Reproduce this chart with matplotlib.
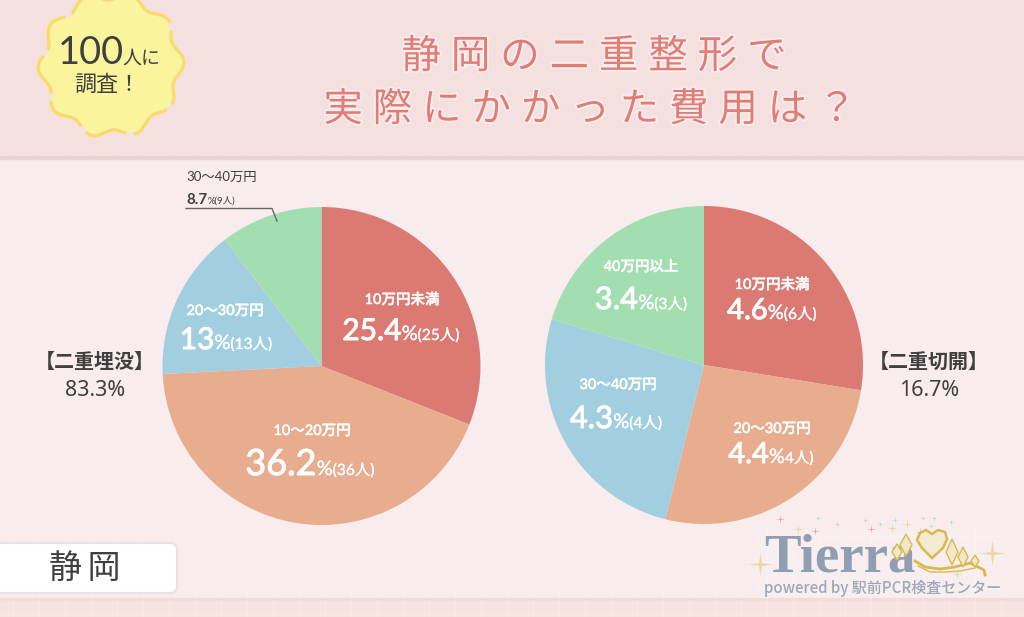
import numpy as np
import matplotlib
matplotlib.use("Agg")
import matplotlib.pyplot as plt
from matplotlib.patches import Rectangle, FancyBboxPatch, Polygon
from matplotlib.path import Path
import matplotlib.patheffects as pe

CJK = 'Noto Sans CJK JP'
LAT = ['Lato', CJK]
plt.rcParams['font.family'] = [CJK, 'DejaVu Sans']

# --- data ---
left_categories = ['10万円未満', '10〜20万円', '20〜30万円', '30〜40万円']
left_values = [25.4, 36.2, 13, 8.7]
left_shares = [31.0, 43.2, 15.4, 10.4]   # slice sizes as drawn in the picture
left_people = ['(25人)', '(36人)', '(13人)', '(9人)']
right_categories = ['10万円未満', '20〜30万円', '30〜40万円', '40万円以上']
right_values = [4.6, 4.4, 4.3, 3.4]
right_people = ['(6人)', '4人)', '(4人)', '(3人)']
slice_colors = ['#db7a72', '#e8ac8e', '#a2cfe0', '#a3deb1']
left_total = ('【二重埋没】', '83.3%')
right_total = ('【二重切開】', '16.7%')
title_lines = ['静岡の二重整形で', '実際にかかった費用は？']
region = '静岡'

W, H = 1024, 617
fig = plt.figure(figsize=(W / 100, H / 100), dpi=100)
bg = fig.add_axes([0, 0, 1, 1])
bg.set_xlim(0, W); bg.set_ylim(H, 0); bg.axis('off')
renderer = fig.canvas.get_renderer()
INK = '#3f3f3f'


def pt(px):
    return px * 0.72


def runs(cx, base, parts, color='white', ax=bg, zorder=10):
    """parts: (text, px size, stroke); centred on cx on one baseline"""
    arts, widths = [], []
    for s, size, st in parts:
        t = ax.text(0, base, s, fontsize=pt(size), family=LAT,
                    color=color, va='baseline', ha='left', zorder=zorder,
                    path_effects=[pe.withStroke(linewidth=st, foreground=color)])
        arts.append(t)
        widths.append(t.get_window_extent(renderer).width)
    x = cx - sum(widths) / 2
    for t, wd in zip(arts, widths):
        t.set_x(x)
        x += wd


# --- background ---
bg.add_patch(Rectangle((0, 0), W, H, color='#f9eced', zorder=0))
bg.add_patch(Rectangle((0, 0), W, 156, color='#f5e0e0', zorder=1))
bg.add_patch(Rectangle((0, 156), W, 3, color='#e8d2d2', zorder=1))
bg.add_patch(Rectangle((0, 600), W, 17, color='#f7e3e0', zorder=1))
bg.add_patch(Rectangle((0, 598), W, 2, color='#f0dcdc', zorder=1))
for g in np.arange(13, W, 26):
    bg.plot([g, g], [159, H], color='white', lw=0.8, alpha=0.2, zorder=1.5)
for g in np.arange(172, H, 26):
    bg.plot([0, W], [g, g], color='white', lw=0.8, alpha=0.2, zorder=1.5)

# --- badge ---
th = np.linspace(0, 2 * np.pi, 500)
rad = 66 + 4 * np.cos(10 * th + 0.4)
bg.add_patch(Polygon(np.c_[111 + rad * np.cos(th), 65 + rad * np.sin(th)],
                     color='#faf59d', zorder=2))
rad2 = 69 + 4 * np.cos(10 * th + 0.4)
bg.plot(111 + rad2 * np.cos(th), 65 + rad2 * np.sin(th), color='#f8dd60', lw=2.2,
        ls=(0, (14, 2.5)), zorder=2.5)
bg.text(58, 64, '100', fontsize=pt(38), family=LAT, color=INK, va='baseline', zorder=3)
bg.text(122, 64, '人に', fontsize=pt(19), family=LAT, color=INK, va='baseline', zorder=3)
bg.text(107, 85, '調査！', fontsize=pt(22), color=INK, ha='center', va='center', zorder=3)

# --- title ---
gap = '\u2005'
glow = [pe.withStroke(linewidth=2.5, foreground='#fbeeee')]
for y, line, cx in zip([57, 110], title_lines, [594, 590]):
    bg.text(cx, y, gap.join(line), fontsize=pt(39.5), color='#e07d77', ha='center', va='center',
            family=[CJK, 'DejaVu Sans'], path_effects=glow, zorder=3)


# --- pies ---
def pie(cx, cy, r, values):
    ax = fig.add_axes([(cx - r) / W, 1 - (cy + r) / H, 2 * r / W, 2 * r / H])
    ax.pie(values, colors=slice_colors, startangle=90, counterclock=False, radius=1,
           wedgeprops={'linewidth': 0})
    ax.set_xlim(-1, 1); ax.set_ylim(-1, 1)
    ax.set_zorder(2)
    return ax


pie(321.5, 366, 159, left_shares)
pie(704, 365, 159, right_values)
fg = fig.add_axes([0, 0, 1, 1], zorder=5)
fg.set_xlim(0, W); fg.set_ylim(H, 0); fg.axis('off'); fg.patch.set_alpha(0)


def label(ax_cat, cx, y, bcx, base, val, ppl, size):
    fg.text(cx, y, ax_cat, fontsize=pt(14.5), family=LAT, color='white', fontweight='medium',
            ha='center', va='center',
            path_effects=[pe.withStroke(linewidth=0.3, foreground='white')])
    runs(bcx, base, [(f'{val:g}', size, 0.7), ('%', 20, 0.2), (ppl, 15.5, 0.2)], ax=fg)


label(left_categories[0], 402, 300, 401, 340, left_values[0], left_people[0], 30)
label(left_categories[1], 312, 431, 310, 475, left_values[1], left_people[1], 36)
label(left_categories[2], 225, 311, 226, 349, left_values[2], left_people[2], 30)
label(right_categories[0], 772, 285, 772, 319, right_values[0], right_people[0], 29)
label(right_categories[1], 772, 429, 771, 463, right_values[1], right_people[1], 29)
label(right_categories[2], 618, 385, 616, 428, right_values[2], right_people[2], 31)
label(right_categories[3], 641, 267, 641, 309, right_values[3], right_people[3], 31)

# outside label
fg.text(186, 176.5, left_categories[3], fontsize=pt(13.3), family=LAT, color=INK, va='center')
t1 = fg.text(186, 204, f'{left_values[3]:g}', fontsize=pt(15), family=LAT, fontweight='bold',
             color=INK, va='baseline')
x1 = 186 + t1.get_window_extent(renderer).width
fg.text(x1, 204, '%' + left_people[3], fontsize=pt(9.5), family=LAT, color=INK, va='baseline')
fg.plot([186, 272, 277], [208.5, 208.5, 221], color='#666666', lw=1)

# side totals
for cx, (a, b) in zip([95, 929], [left_total, right_total]):
    fg.text(cx, 361, a, fontsize=pt(20), fontweight='bold', color=INK, ha='center', va='center')
    fg.text(cx, 390, b, fontsize=pt(21.5), family=['Noto Sans', CJK], color=INK, ha='center', va='center')

# region box
fg.add_patch(FancyBboxPatch((-12, 543), 189, 50, boxstyle='round,pad=0,rounding_size=7',
                            fc='white', ec='#e8e2e6', lw=1.5))
fg.text(85, 568, region[0] + '\u2006' + region[1], fontsize=pt(33), color=INK, ha='center', va='center',
        family=[CJK, 'DejaVu Sans'])

# --- logo ---
fg.add_patch(Rectangle((755, 530), 245, 68, color='white', alpha=0.14, lw=0))
star = Path([(0, 1), (.12, .12), (1, 0), (.12, -.12), (0, -1), (-.12, -.12), (-1, 0), (-.12, .12), (0, 1)], closed=True)
for x, y, c, s in [(760, 564, '#e8d9a6', 24), (992, 553, '#e8d9a6', 26), (798, 529, '#e8d9a6', 11),
                   (892, 528, '#e8d9a6', 11), (907, 524, '#e8d9a6', 11), (957, 574, '#e8d9a6', 11),
                   (780, 519, '#d6a9c0', 9), (815, 531, '#d6a9c0', 9), (871, 529, '#d6a9c0', 9), (920, 532, '#d6a9c0', 9),
                   (818, 518, '#a6d3e2', 6), (837, 524, '#a6d3e2', 6), (865, 520, '#a6d3e2', 6), (880, 524, '#a6d3e2', 6),
                   (895, 520, '#a6d3e2', 6), (923, 518, '#a6d3e2', 6), (934, 518, '#a6d3e2', 6), (951, 522, '#a6d3e2', 6),
                   (931, 526, '#a6d3e2', 6)]:
    fg.scatter([x], [y], marker=star, s=s ** 2 / 2, color=c, lw=0, zorder=3)
fg.text(764, 572, 'Tierra', fontsize=pt(55), family='Liberation Serif', fontweight='bold',
        color='#8f9fb1', va='baseline', zorder=4)
fg.text(764, 588, 'powered by 駅前PCR検査センター', fontsize=pt(15), fontweight='medium', color='#9aa8b7',
        va='center', zorder=4)
# tiara
gold = '#d9b94f'
fg.plot([915, 925, 940, 955, 970, 984, 985], [561, 567, 569, 567, 563, 570, 575], color=gold, lw=2, zorder=5)
fg.plot([918, 930, 945, 960, 975], [566, 572, 572, 571, 568], color=gold, lw=1, zorder=5)
hx = np.array([932, 922, 917, 920, 926, 932, 938, 945, 947, 943, 932])
hy = np.array([558, 548, 540, 533, 530, 534, 530, 532, 539, 548, 558])
fg.add_patch(Polygon(np.c_[hx, hy], closed=True, fc='#f4ead0', ec=gold, lw=1.8, zorder=5))
for x, y, w, h in [(906, 545, 6, 11), (952, 552, 6, 13), (963, 557, 5, 10), (975, 561, 4, 6), (897, 552, 5, 8)]:
    fg.add_patch(Polygon([(x, y - h), (x + w, y), (x, y + h), (x - w, y)], closed=True, fc='#f2e8c8',
                         ec=gold, lw=1, zorder=5))

fig.savefig('out.png', dpi=100)
